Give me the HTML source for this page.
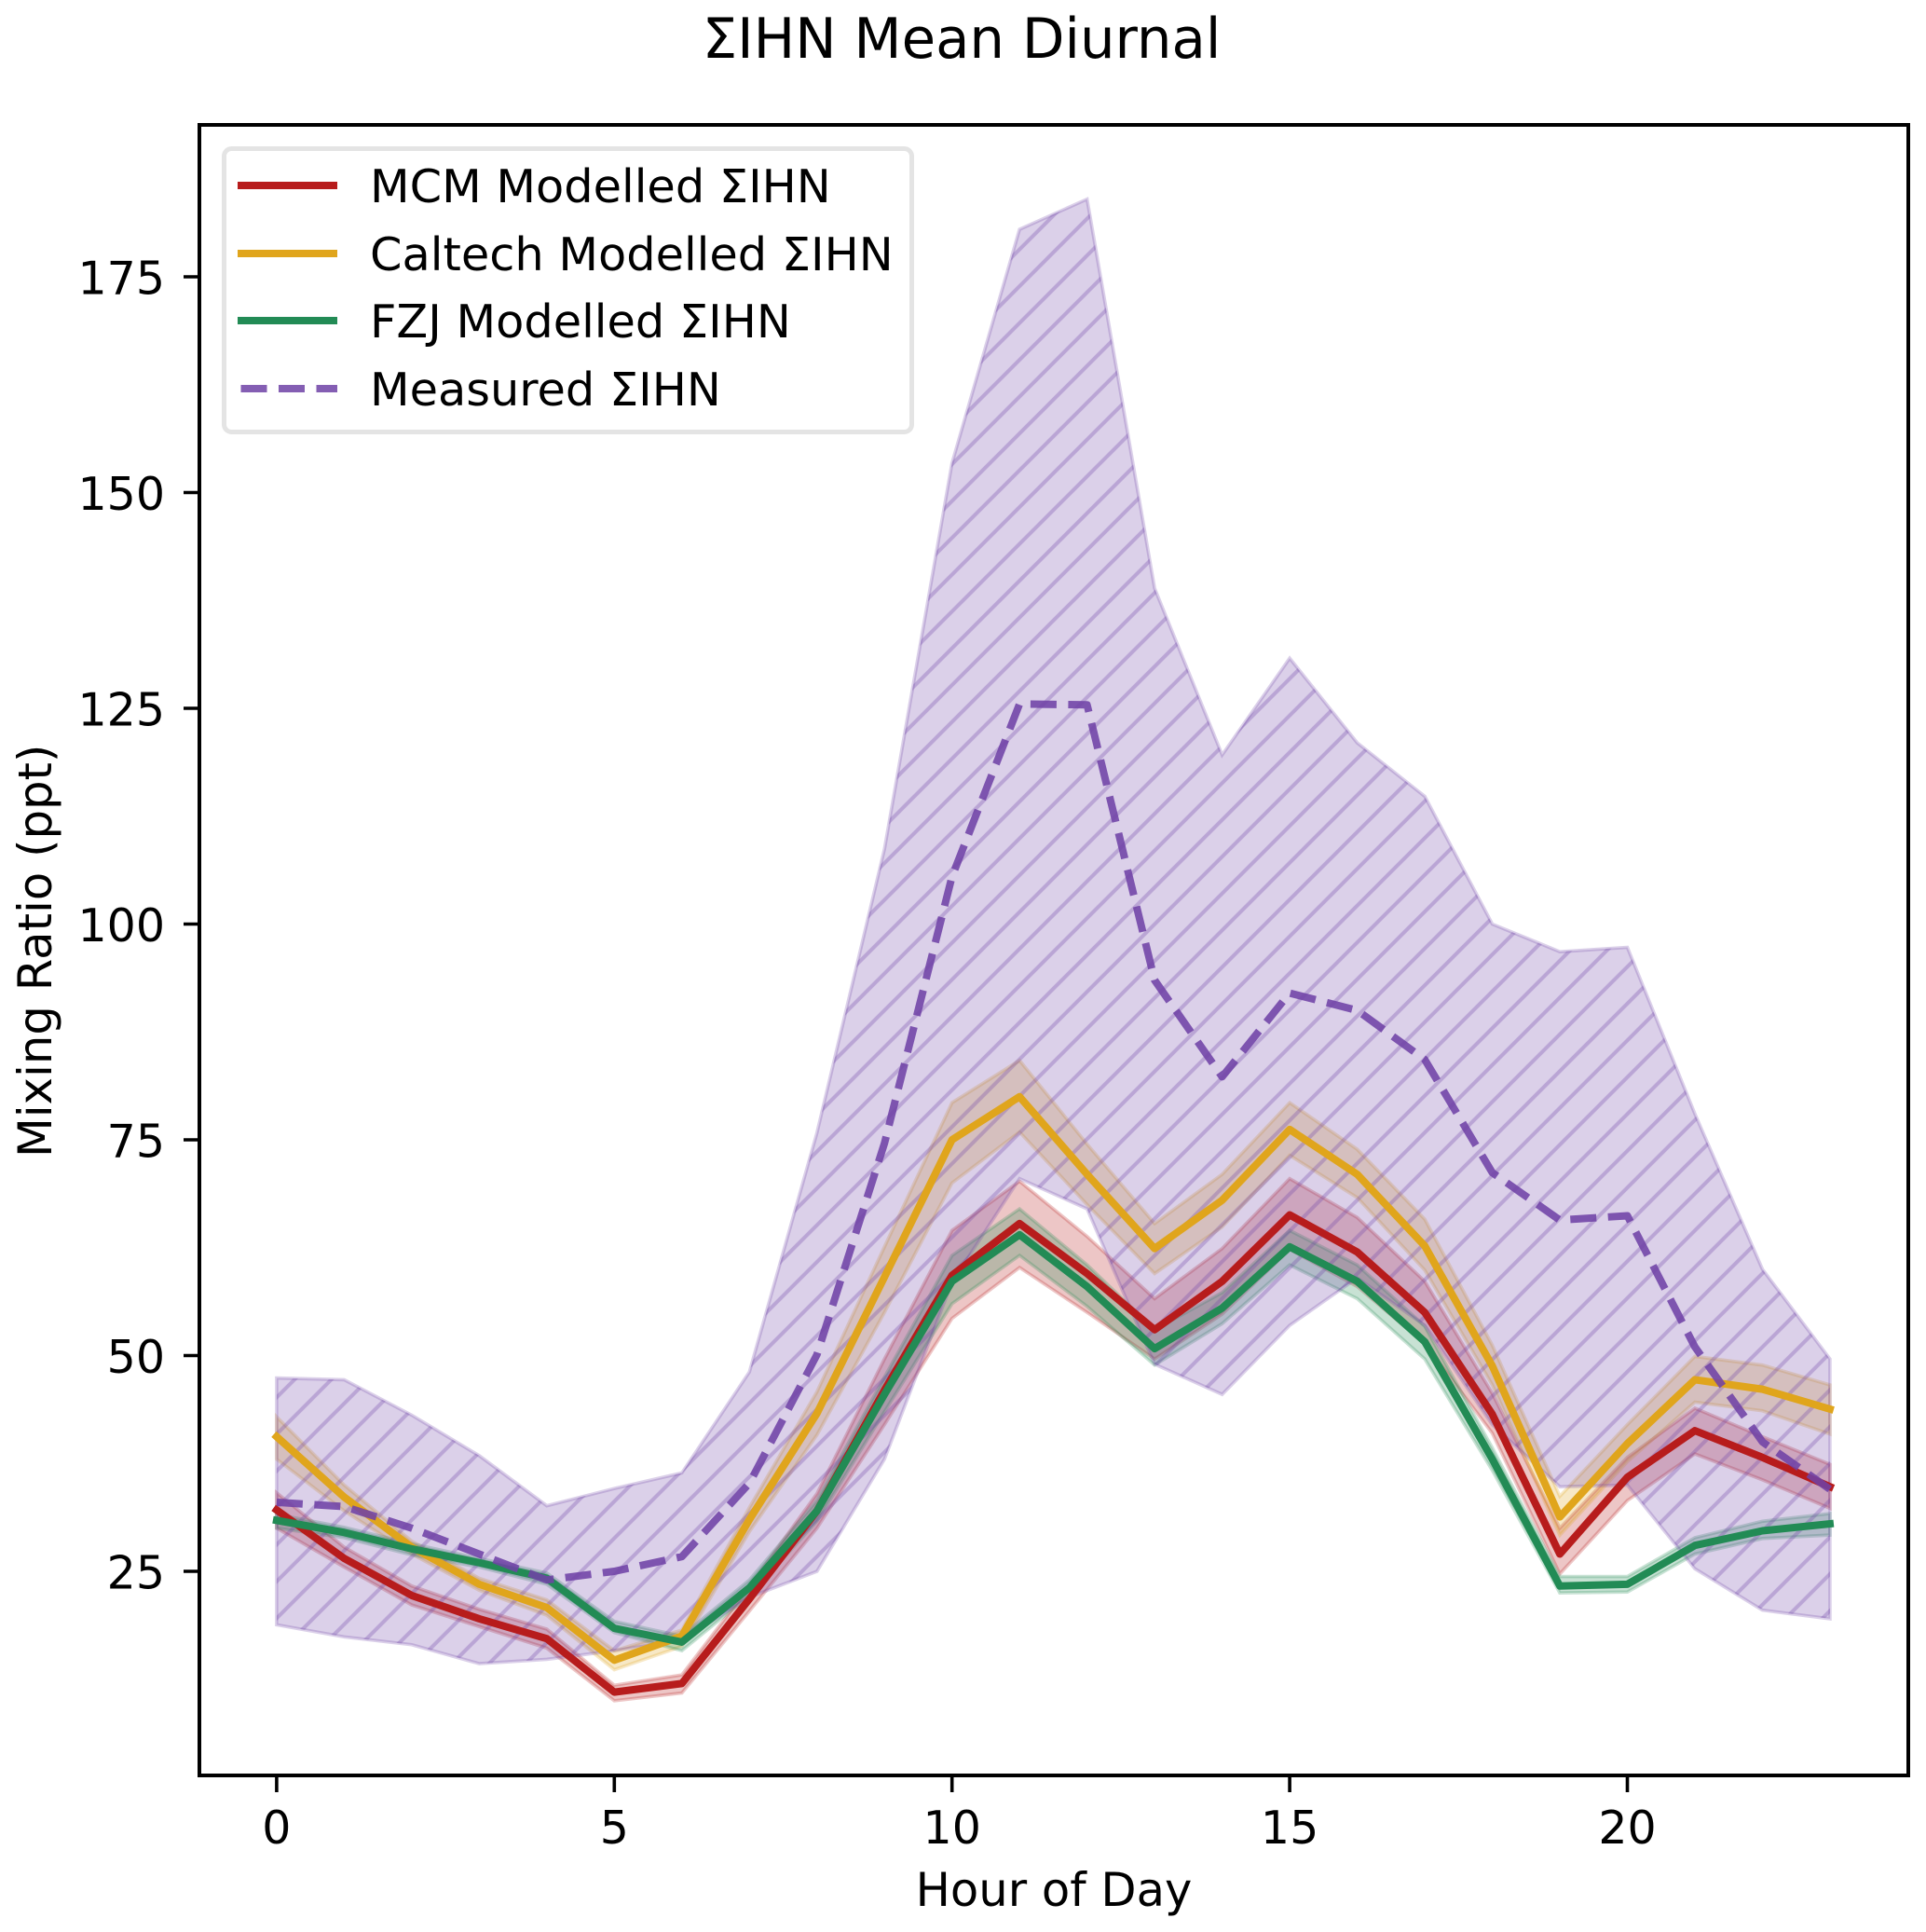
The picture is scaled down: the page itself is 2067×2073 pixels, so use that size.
<!DOCTYPE html>
<html lang="en">
<head>
<meta charset="utf-8">
<title>ΣIHN Mean Diurnal</title>
<style>
html,body{margin:0;padding:0;background:#fff;}
svg{display:block;}
text{font-family:"DejaVu Sans","Liberation Sans",sans-serif;fill:#000;}
</style>
</head>
<body>
<svg id="chart" xmlns="http://www.w3.org/2000/svg" width="2067" height="2073" viewBox="0 0 2067 2073">
  <defs>
    <clipPath id="plot-clip"><rect x="214" y="134" width="1834" height="1771"/></clipPath>
    <pattern id="hatch" patternUnits="userSpaceOnUse" x="18.8" y="0" width="39.5" height="39.5">
      <path d="M-4 43.5L43.5 -4M-4 4L4 -4M35.5 43.5L43.5 35.5" stroke="#6f42a6" stroke-opacity="0.3" stroke-width="4" fill="none"/>
    </pattern>
  </defs>
  <rect x="0" y="0" width="2067" height="2073" fill="#fff"/>
  <text x="1032" y="62" font-size="59.3" text-anchor="middle">ΣIHN Mean Diurnal</text>
  <g id="bands" clip-path="url(#plot-clip)"></g>
  <g id="lines" clip-path="url(#plot-clip)"></g>
  <g id="ticks"></g>
  <rect x="214" y="134" width="1834" height="1771" fill="none" stroke="#000" stroke-width="4"/>
  <text x="1131" y="2045" font-size="49.6" text-anchor="middle">Hour of Day</text>
  <text x="55" y="1020.3" font-size="49.7" text-anchor="middle" transform="rotate(-90 55 1020.3)">Mixing Ratio (ppt)</text>
  <g>
    <rect x="240.5" y="159.5" width="738" height="304" rx="8" ry="8" fill="#fff" fill-opacity="0.8" stroke="#e4e4e4" stroke-width="5"/>
    <g>
      <line x1="255" x2="362" y1="199" y2="199" stroke="#b71c1c" stroke-width="8"/>
      <text x="397" y="217" font-size="49.4">MCM Modelled ΣIHN</text>
    </g>
    <g>
      <line x1="255" x2="362" y1="272" y2="272" stroke="#e0a51c" stroke-width="8"/>
      <text x="397" y="290" font-size="49.4">Caltech Modelled ΣIHN</text>
    </g>
    <g>
      <line x1="255" x2="362" y1="344" y2="344" stroke="#228b55" stroke-width="8"/>
      <text x="397" y="362" font-size="49.4">FZJ Modelled ΣIHN</text>
    </g>
    <g>
      <line x1="258.5" x2="362" y1="417" y2="417" stroke="#6f42a6" stroke-opacity="0.85" stroke-width="8" stroke-dasharray="28 12.5"/>
      <text x="397" y="435" font-size="49.4">Measured ΣIHN</text>
    </g>
  </g>
</svg>
<script>
const hours = [0,1,2,3,4,5,6,7,8,9,10,11,12,13,14,15,16,17,18,19,20,21,22,23];
const xTickValues = [0,5,10,15,20];
const yTickValues = [25,50,75,100,125,150,175];

const mcmMean  = [32.1,26.5,22.2,19.5,17.2,11.0,12.0,21.8,32.0,46.0,59.3,65.3,59.5,53.0,58.6,66.3,62.0,55.0,43.2,27.0,35.9,41.3,38.2,34.8];
const mcmUpper = [34.1,27.8,23.3,20.6,18.3,11.8,13.0,23.2,34.0,49.6,64.5,70.2,63.8,56.6,62.4,70.5,66.0,58.6,45.6,30.0,38.2,43.9,40.6,37.4];
const mcmLower = [30.0,25.5,21.1,18.6,16.1,10.0,10.9,20.4,30.0,42.0,54.3,60.2,55.0,49.6,54.8,62.3,58.0,51.4,41.0,24.7,33.2,38.6,35.6,32.3];

const caltechMean  = [40.6,33.6,27.8,23.5,20.8,14.7,17.5,31.0,43.3,59.1,75.0,80.0,71.0,62.4,68.0,76.2,71.0,62.7,48.8,31.3,39.8,47.2,46.1,43.8];
const caltechUpper = [42.9,35.0,28.5,24.2,21.7,15.8,18.2,32.4,45.8,62.6,79.3,84.2,74.5,65.3,71.0,79.3,73.9,65.8,51.2,33.7,42.0,49.9,48.9,46.6];
const caltechLower = [38.0,32.0,27.0,22.8,19.9,13.6,16.3,29.6,40.8,55.0,70.0,75.9,67.5,59.5,64.9,73.2,68.3,59.9,46.6,29.2,37.7,44.6,43.6,40.9];

const fzjMean  = [30.9,29.5,27.6,26.0,24.2,18.4,16.8,23.1,32.0,45.5,58.6,64.0,58.0,50.8,55.5,62.6,58.6,51.6,38.0,23.3,23.5,28.0,29.7,30.5];
const fzjUpper = [31.6,30.1,28.2,26.5,24.8,19.2,17.5,24.0,33.2,47.5,61.6,67.0,60.5,53.0,57.3,64.5,60.5,53.4,39.3,24.4,24.4,28.9,30.8,31.7];
const fzjLower = [30.0,28.9,26.9,25.5,23.5,17.9,15.8,22.2,30.8,43.5,56.0,61.6,55.7,48.9,53.7,60.5,56.6,49.6,36.7,22.5,22.6,27.0,28.8,29.2];

const measuredMean  = [33.0,32.5,30.0,27.0,24.0,25.0,26.7,35.2,50.1,74.6,105.5,125.5,125.4,93.5,82.3,92.0,90.0,84.3,71.2,65.7,66.2,51.0,40.0,34.5];
const measuredUpper = [47.4,47.2,43.1,38.4,32.6,34.6,36.4,48.1,75.8,108.7,153.4,180.5,184.0,138.9,119.6,130.8,121.0,114.8,100.0,96.8,97.3,78.0,60.0,49.6];
const measuredLower = [18.8,17.4,16.5,14.3,14.8,15.8,17.0,22.0,25.0,38.0,58.5,70.5,67.0,49.0,45.5,53.5,59.0,53.5,42.0,34.8,35.0,25.3,20.5,19.5];

const SVG_NS = 'http://www.w3.org/2000/svg';
function xScale(hour){ return 296.9 + 72.48 * hour; }
function yScale(value){ return 1686 - (value - 25) * 9.26; }

function linePath(values){
  return values.map(function(v,i){
    return (i ? 'L' : 'M') + xScale(hours[i]).toFixed(2) + ' ' + yScale(v).toFixed(2);
  }).join('');
}
function bandPath(upper,lower){
  let d = linePath(upper);
  for(let i = lower.length - 1; i >= 0; i--){
    d += 'L' + xScale(hours[i]).toFixed(2) + ' ' + yScale(lower[i]).toFixed(2);
  }
  return d + 'Z';
}

const bandsGroup = document.getElementById('bands');
const linesGroup = document.getElementById('lines');
const ticksGroup = document.getElementById('ticks');

function addBand(name, upper, lower, color, opacity){
  const p = document.createElementNS(SVG_NS,'path');
  
  
  p.setAttribute('d', bandPath(upper,lower));
  p.setAttribute('fill', color);
  p.setAttribute('fill-opacity', opacity);
  p.setAttribute('stroke', color);
  p.setAttribute('stroke-opacity', opacity);
  p.setAttribute('stroke-width', '3.6');
  p.setAttribute('stroke-linejoin', 'miter');
  bandsGroup.appendChild(p);
}
addBand('mcm-band', mcmUpper, mcmLower, '#b71c1c', '0.25');
addBand('caltech-band', caltechUpper, caltechLower, '#e0a51c', '0.25');
addBand('fzj-band', fzjUpper, fzjLower, '#228b55', '0.25');
addBand('measured-band', measuredUpper, measuredLower, '#6f42a6', '0.25');

const hatchPath = document.createElementNS(SVG_NS,'path');


hatchPath.setAttribute('d', bandPath(measuredUpper,measuredLower));
hatchPath.setAttribute('fill', 'url(#hatch)');
bandsGroup.appendChild(hatchPath);

function addLine(name, values, color, dash, opacity){
  const p = document.createElementNS(SVG_NS,'path');
  
  
  p.setAttribute('d', linePath(values));
  p.setAttribute('fill', 'none');
  p.setAttribute('stroke', color);
  p.setAttribute('stroke-width', '8');
  p.setAttribute('stroke-linejoin', 'round');
  p.setAttribute('stroke-linecap', dash ? 'butt' : 'square');
  if(dash){ p.setAttribute('stroke-dasharray', dash); }
  if(opacity){ p.setAttribute('stroke-opacity', opacity); }
  linesGroup.appendChild(p);
}
addLine('mcm-line', mcmMean, '#b71c1c');
addLine('caltech-line', caltechMean, '#e0a51c');
addLine('fzj-line', fzjMean, '#228b55');
addLine('measured-line', measuredMean, '#6f42a6', '28 12.5', '0.88');

xTickValues.forEach(function(t){
  const mark = document.createElementNS(SVG_NS,'line');
  
  
  mark.setAttribute('x1', xScale(t));
  mark.setAttribute('x2', xScale(t));
  mark.setAttribute('y1', 1905);
  mark.setAttribute('y2', 1923);
  mark.setAttribute('stroke', '#000');
  mark.setAttribute('stroke-width', '3.6');
  ticksGroup.appendChild(mark);
  const label = document.createElementNS(SVG_NS,'text');
  
  
  label.setAttribute('x', xScale(t));
  label.setAttribute('y', 1978);
  label.setAttribute('font-size', '49');
  label.setAttribute('text-anchor', 'middle');
  label.textContent = String(t);
  ticksGroup.appendChild(label);
});
yTickValues.forEach(function(t){
  const mark = document.createElementNS(SVG_NS,'line');
  
  
  mark.setAttribute('x1', 197);
  mark.setAttribute('x2', 214);
  mark.setAttribute('y1', yScale(t));
  mark.setAttribute('y2', yScale(t));
  mark.setAttribute('stroke', '#000');
  mark.setAttribute('stroke-width', '3.6');
  ticksGroup.appendChild(mark);
  const label = document.createElementNS(SVG_NS,'text');
  
  
  label.setAttribute('x', 177);
  label.setAttribute('y', yScale(t) + 18.5);
  label.setAttribute('font-size', '49');
  label.setAttribute('text-anchor', 'end');
  label.textContent = String(t);
  ticksGroup.appendChild(label);
});
</script>
</body>
</html>
